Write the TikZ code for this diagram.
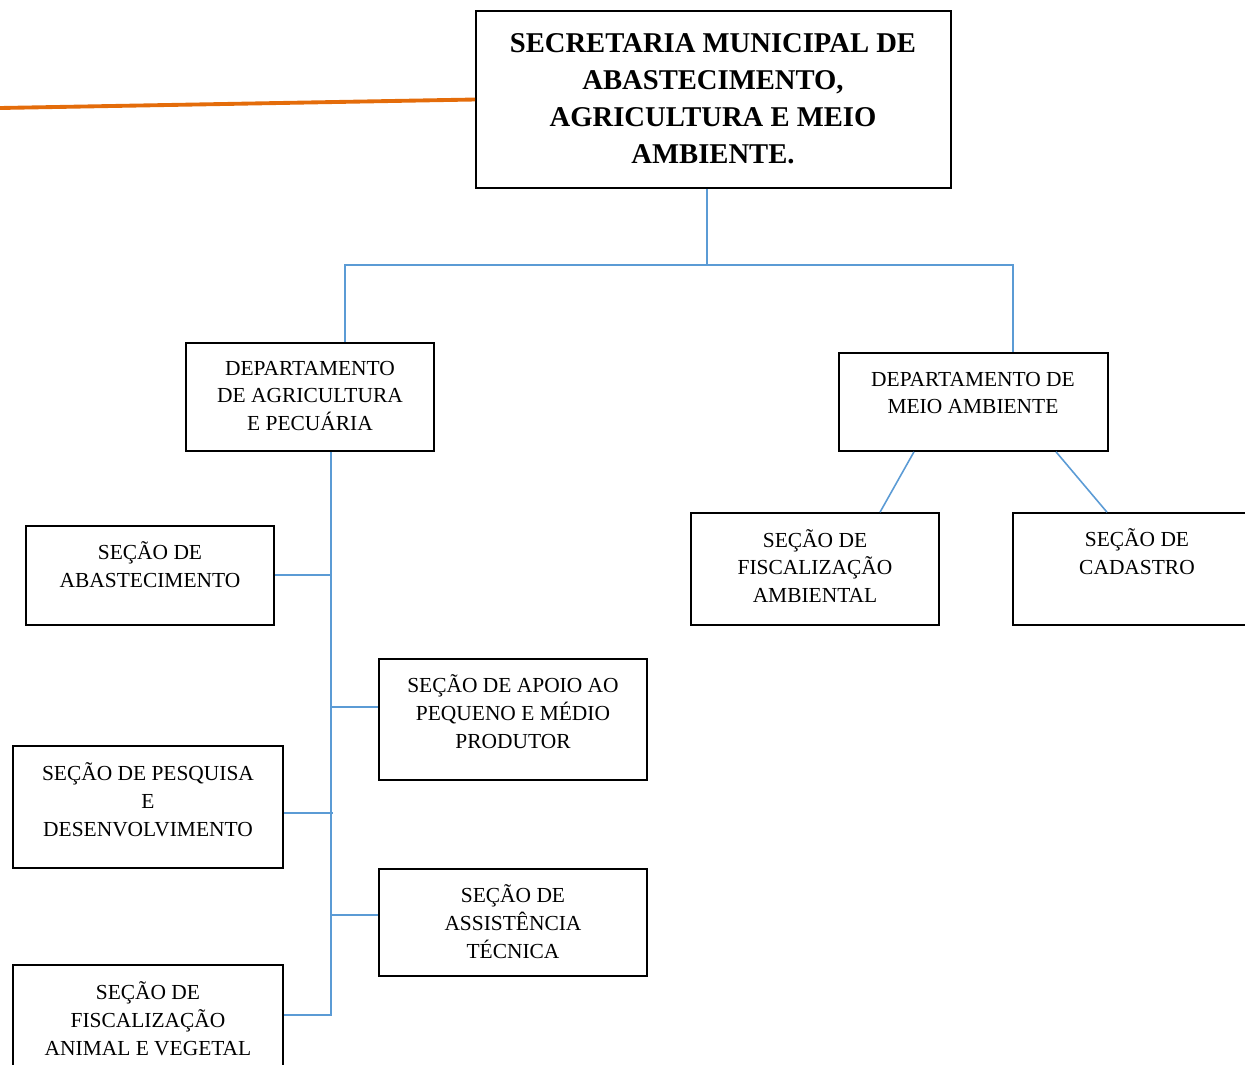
\documentclass[tikz,border=0pt]{standalone}
\usepackage{fontspec}
\setmainfont{Liberation Serif}
\usetikzlibrary{fit}
\definecolor{linkblue}{HTML}{5B9BD5}
\definecolor{linkorange}{HTML}{E46C0A}
\begin{document}
\begin{tikzpicture}[x=0.02cm,y=-0.02cm,
		box/.style={draw,line width=0.9pt,inner sep=0pt},
		txt/.style={align=center,inner sep=0pt,font=\fontsize{12.2}{15.9}\selectfont},
		head/.style={align=center,inner sep=0pt,font=\bfseries\fontsize{16.3}{21}\selectfont},
		conn/.style={linkblue,line width=0.9pt}]
			\useasboundingbox (0,0) rectangle (1245,1065);
			\node[box,fit={(476,11) (951,188)}] (top) {};
			\node[head] (toptxt) at (713,98.5) {SECRETARIA MUNICIPAL DE\\ABASTECIMENTO,\\AGRICULTURA E MEIO\\AMBIENTE.};
			\node[box,fit={(186,343) (434,451)}] (agric) {};
			\node[txt] (agrictxt) at (310,396) {DEPARTAMENTO\\DE AGRICULTURA\\E PECUÁRIA};
			\node[box,fit={(839,353) (1108,451)}] (meio) {};
			\node[txt] (meiotxt) at (973,393) {DEPARTAMENTO DE\\MEIO AMBIENTE};
			\node[box,fit={(691,513) (939,625)}] (fiscamb) {};
			\node[txt] (fiscambtxt) at (815,566) {SEÇÃO DE\\FISCALIZAÇÃO\\AMBIENTAL};
			\node[box,fit={(1013,513) (1261,625)}] (cadastro) {};
			\node[txt] (cadastrotxt) at (1137,552) {SEÇÃO DE\\CADASTRO};
			\node[box,fit={(26,526) (274,625)}] (abast) {};
			\node[txt] (abasttxt) at (150,565) {SEÇÃO DE\\ABASTECIMENTO};
			\node[box,fit={(379,659) (647,780)}] (apoio) {};
			\node[txt] (apoiotxt) at (513,712) {SEÇÃO DE APOIO AO\\PEQUENO E MÉDIO\\PRODUTOR};
			\node[box,fit={(13,746) (283,868)}] (pesquisa) {};
			\node[txt] (pesquisatxt) at (148,800) {SEÇÃO DE PESQUISA\\E\\DESENVOLVIMENTO};
			\node[box,fit={(379,869) (647,976)}] (assist) {};
			\node[txt] (assisttxt) at (513,922) {SEÇÃO DE\\ASSISTÊNCIA\\TÉCNICA};
			\node[box,fit={(13,965) (283,1067)}] (fiscanim) {};
			\node[txt] (fiscanimtxt) at (148,1019) {SEÇÃO DE\\FISCALIZAÇÃO\\ANIMAL E VEGETAL};
			\coordinate (fork) at (707,265);
			\coordinate (busL) at (345,265);
			\coordinate (busR) at (1013,265);
			\coordinate (spine) at (331,1015);
			\coordinate (loose) at (0,108);
			\draw[linkorange,line width=2.2pt] (loose) -- (top.west);
			\draw[conn] (top.south -| fork) -- (fork);
			\draw[conn] (agric.north -| busL) -- (busL) -- (busR) -- (meio.north -| busR);
			\draw[conn] (agric.south -| spine) -- (spine) -- (fiscanim.east |- spine);
			\draw[conn] (abast.east |- 0,575) -- (spine |- 0,575);
			\draw[conn] (apoio.west |- 0,707) -- (spine |- 0,707);
			\draw[conn] (pesquisa.east |- 0,813) -- (333,813);
			\draw[conn] (assist.west |- 0,915) -- (spine |- 0,915);
			\draw[conn] (meio.south -| 914,0) -- (fiscamb.north -| 880,0);
			\draw[conn] (meio.south -| 1056,0) -- (cadastro.north -| 1107,0);
			\end{tikzpicture}
\end{document}
